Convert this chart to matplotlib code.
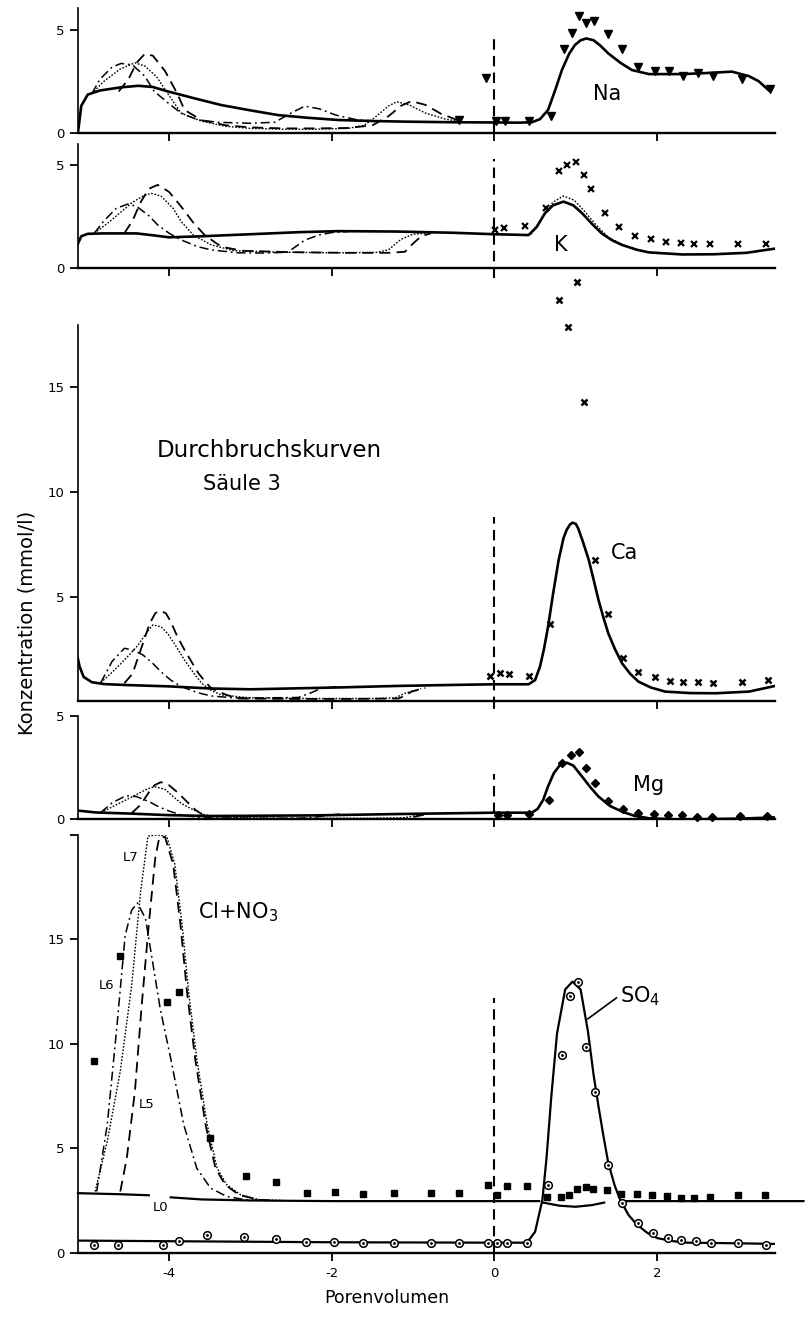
import matplotlib
matplotlib.use("Agg")
import matplotlib.pyplot as plt
import numpy as np

W, H = 809, 1317
nan = np.nan

x_ticks = [-4, -2, 0, 2]
x_tick_labels = ["-4", "-2", "0", "2"]

# Na panel
na_x_obs = [-0.44, -0.10, 0.02, 0.13, 0.43, 0.69, 0.85, 0.95, 1.04, 1.13, 1.23, 1.40, 1.57,
            1.77, 1.97, 2.15, 2.32, 2.50, 2.69, 3.04, 3.39]
na_y_obs = [0.62, 2.65, 0.55, 0.55, 0.57, 0.81, 4.09, 4.84, 5.68, 5.36, 5.45, 4.79, 4.09,
            3.21, 3.0, 3.0, 2.78, 2.88, 2.75, 2.62, 2.1]
na_l0_x = [-5.12, -5.08, -5.0, -4.85, -4.6, -4.38, -4.2, -4.01, -3.7, -3.36, -3.0, -2.66, -2.3,
           -1.92, -1.5, -1.1, -0.5, 0.0, 0.3, 0.46, 0.56, 0.66, 0.75, 0.83, 0.92, 0.99, 1.06,
           1.13, 1.22, 1.30, 1.40, 1.55, 1.69, 1.90, 2.31, 2.6, 2.92, 3.13, 3.25, 3.37]
na_l0_y = [0.0, 1.3, 1.85, 2.05, 2.2, 2.28, 2.22, 2.0, 1.68, 1.34, 1.08, 0.85, 0.72,
           0.61, 0.56, 0.53, 0.5, 0.49, 0.48, 0.5, 0.65, 1.1, 2.1, 3.05, 3.85, 4.27, 4.5,
           4.59, 4.5, 4.25, 3.86, 3.4, 3.05, 2.85, 2.85, 2.9, 2.97, 2.75, 2.5, 2.07]
na_l5_x = [-4.62, -4.5, -4.4, -4.3, -4.2, -4.05, -3.9, -3.81, -3.6, -3.3, -3.0, -2.6, -2.2,
           -1.8, -1.5, -1.3, -1.15, -1.02, -0.85, -0.65, -0.45]
na_l5_y = [2.0, 2.6, 3.4, 3.83, 3.75, 3.0, 1.9, 1.1, 0.6, 0.35, 0.25, 0.2, 0.2,
           0.22, 0.35, 0.8, 1.3, 1.53, 1.35, 0.9, 0.6]
na_l6_x = [-4.95, -4.85, -4.7, -4.59, -4.45, -4.3, -4.18, -4.0, -3.85, -3.65, -3.4, -3.0,
           -2.7, -2.5, -2.33, -2.15, -1.95, -1.68, -1.4]
na_l6_y = [1.9, 2.6, 3.2, 3.37, 3.3, 2.75, 2.0, 1.4, 0.94, 0.62, 0.5, 0.45,
           0.5, 0.95, 1.29, 1.15, 0.85, 0.61, 0.55]
na_l7_x = [-4.95, -4.8, -4.6, -4.42, -4.3, -4.15, -4.0, -3.85, -3.6, -3.3, -3.0, -2.6, -2.2,
           -1.8, -1.6, -1.45, -1.3, -1.2, -1.05, -0.85, -0.6, -0.45]
na_l7_y = [1.9, 2.5, 3.1, 3.4, 3.25, 2.7, 1.8, 0.94, 0.55, 0.3, 0.2, 0.16, 0.16,
           0.2, 0.35, 0.8, 1.3, 1.5, 1.35, 0.95, 0.65, 0.55]

# K panel
k_x_obs = [0.01, 0.12, 0.37, 0.63, 0.79, 0.89, 1.0, 1.10, 1.19, 1.36, 1.53, 1.73, 1.93, 2.11,
           2.29, 2.46, 2.65, 2.99, 3.34]
k_y_obs = [1.85, 1.94, 2.07, 2.91, 4.73, 5.0, 5.17, 4.52, 3.84, 2.66, 2.02, 1.57, 1.41, 1.29,
           1.24, 1.16, 1.16, 1.16, 1.16]
k_l0_x = [-5.12, -5.08, -5.0, -4.8, -4.4, -4.2, -4.0, -3.6, -3.0, -2.4, -1.92, -1.2, -0.5, 0.0,
          0.42, 0.52, 0.62, 0.72, 0.85, 0.97, 1.08, 1.2, 1.32, 1.45, 1.57, 1.75, 1.90, 2.31,
          2.7, 3.1, 3.46]
k_l0_y = [1.2, 1.55, 1.67, 1.69, 1.69, 1.6, 1.5, 1.55, 1.65, 1.75, 1.8, 1.78, 1.72, 1.65,
          1.61, 2.0, 2.66, 3.05, 3.23, 3.05, 2.66, 2.15, 1.69, 1.35, 1.13, 0.9, 0.77, 0.67,
          0.68, 0.75, 0.96]
k_l5_x = [-4.55, -4.45, -4.35, -4.25, -4.14, -4.0, -3.85, -3.7, -3.56, -3.36, -3.1, -2.5, -1.8,
          -1.3, -1.1, -1.0, -0.9, -0.78]
k_l5_y = [1.7, 2.3, 3.2, 3.85, 4.04, 3.7, 2.98, 2.2, 1.6, 1.05, 0.85, 0.78, 0.75,
          0.75, 0.8, 1.2, 1.55, 1.7]
k_l6_x = [-4.92, -4.8, -4.65, -4.51, -4.4, -4.25, -4.14, -4.0, -3.85, -3.65, -3.48, -3.15, -2.8,
          -2.54, -2.33, -2.15, -2.0, -1.8]
k_l6_y = [1.7, 2.3, 2.9, 3.11, 3.0, 2.55, 2.1, 1.7, 1.37, 1.05, 0.89, 0.75, 0.74,
          0.78, 1.37, 1.62, 1.73, 1.78]
k_l7_x = [-4.92, -4.75, -4.6, -4.45, -4.32, -4.22, -4.1, -3.95, -3.85, -3.7, -3.48, -3.2, -2.6,
          -1.9, -1.45, -1.3, -1.15, -1.0, -0.8]
k_l7_y = [1.7, 2.2, 2.7, 3.2, 3.5, 3.63, 3.5, 2.9, 2.26, 1.6, 1.13, 0.85, 0.78,
          0.75, 0.77, 0.9, 1.4, 1.65, 1.72]
k_l7_right_x = [0.45, 0.6, 0.72, 0.85, 0.98, 1.1, 1.25, 1.4, 1.6]
k_l7_right_y = [1.65, 2.5, 3.2, 3.5, 3.3, 2.8, 2.1, 1.5, 1.1]

# Ca panel
ca_x_obs = [-0.05, 0.07, 0.18, 0.43, 0.68, 0.80, 0.90, 1.01, 1.10, 1.24, 1.40, 1.58, 1.77,
            1.97, 2.16, 2.32, 2.50, 2.69, 3.04, 3.37]
ca_y_obs = [1.2, 1.32, 1.28, 1.2, 3.68, 19.2, 17.9, 20.06, 14.3, 6.75, 4.15, 2.07, 1.4,
            1.13, 0.96, 0.89, 0.93, 0.85, 0.89, 1.0]
ca_l0_x = [-5.12, -5.1, -5.05, -4.95, -4.8, -4.5, -4.0, -3.5, -3.0, -2.5, -1.9, -1.2, -0.5, 0.0,
           0.42, 0.50, 0.56, 0.61, 0.66, 0.72, 0.79, 0.85, 0.89, 0.93, 0.96, 1.0, 1.03, 1.09,
           1.16, 1.22, 1.28, 1.34, 1.40, 1.48, 1.57, 1.67, 1.77, 1.92, 2.10, 2.4, 2.72, 3.13, 3.45]
ca_l0_y = [2.0, 1.64, 1.15, 0.9, 0.81, 0.76, 0.7, 0.6, 0.56, 0.6, 0.65, 0.72, 0.77, 0.8,
           0.8, 1.0, 1.64, 2.5, 3.56, 5.1, 6.75, 7.8, 8.2, 8.45, 8.53, 8.48, 8.26, 7.6,
           6.75, 5.8, 4.83, 4.0, 3.24, 2.5, 1.8, 1.3, 0.93, 0.65, 0.45, 0.38, 0.37, 0.45, 0.72]
ca_l5_x = [-4.55, -4.45, -4.38, -4.3, -4.24, -4.17, -4.11, -4.04, -3.98, -3.9, -3.81, -3.72,
           -3.64, -3.55, -3.48, -3.3, -3.15, -2.5, -1.8, -1.18, -1.1, -1.02, -0.85]
ca_l5_y = [0.85, 1.3, 2.1, 3.0, 3.7, 4.2, 4.32, 4.2, 3.8, 3.1, 2.44, 1.85,
           1.33, 0.9, 0.6, 0.3, 0.12, 0.1, 0.1, 0.12, 0.25, 0.45, 0.62]
ca_l6_x = [-4.84, -4.7, -4.55, -4.45, -4.32, -4.2, -4.1, -3.98, -3.85, -3.65, -3.48, -3.2, -2.8,
           -2.41, -2.25, -2.13, -1.92]
ca_l6_y = [0.88, 1.9, 2.52, 2.45, 2.2, 1.8, 1.4, 1.0, 0.69, 0.4, 0.24, 0.15, 0.15,
           0.17, 0.4, 0.61, 0.69]
ca_l7_x = [-4.84, -4.72, -4.59, -4.48, -4.38, -4.28, -4.2, -4.1, -4.02, -3.92, -3.81, -3.7,
           -3.6, -3.48, -3.36, -3.0, -2.2, -1.5, -1.22, -1.1, -0.9]
ca_l7_y = [0.88, 1.3, 1.8, 2.25, 2.68, 3.25, 3.64, 3.55, 3.24, 2.65, 1.96, 1.35,
           0.85, 0.5, 0.29, 0.15, 0.12, 0.12, 0.15, 0.37, 0.6]

# Mg panel
mg_x_obs = [0.05, 0.16, 0.43, 0.67, 0.83, 0.94, 1.04, 1.13, 1.24, 1.40, 1.58, 1.76, 1.96, 2.14,
            2.31, 2.49, 2.67, 3.02, 3.35]
mg_y_obs = [0.21, 0.21, 0.24, 0.94, 2.71, 3.12, 3.28, 2.5, 1.74, 0.89, 0.48, 0.29, 0.24, 0.21,
            0.21, 0.13, 0.13, 0.16, 0.16]
mg_l0_x = [-5.12, -4.9, -4.5, -4.0, -3.5, -3.0, -2.2, -1.1, 0.0, 0.46, 0.53, 0.60, 0.66, 0.73,
           0.80, 0.89, 0.97, 1.08, 1.18, 1.28, 1.42, 1.57, 1.72, 1.90, 2.2, 2.51, 3.0, 3.5]
mg_l0_y = [0.42, 0.33, 0.28, 0.2, 0.16, 0.17, 0.19, 0.26, 0.32, 0.32, 0.5, 0.94, 1.6, 2.23,
           2.6, 2.74, 2.6, 2.06, 1.55, 1.1, 0.65, 0.37, 0.17, 0.05, 0.0, 0.0, 0.03, 0.1]
mg_l5_x = [-4.46, -4.35, -4.25, -4.18, -4.1, -4.0, -3.89, -3.78, -3.68, -3.58, -3.48, -3.0,
           -2.0, -1.1, -0.95, -0.8]
mg_l5_y = [0.3, 0.7, 1.3, 1.65, 1.8, 1.65, 1.28, 0.85, 0.47, 0.2, 0.03, 0.0,
           0.0, 0.02, 0.15, 0.28]
mg_l6_x = [-4.84, -4.7, -4.53, -4.4, -4.32, -4.22, -4.13, -4.0, -3.85, -3.6, -3.0, -2.4, -2.17,
           -2.0, -1.9]
mg_l6_y = [0.33, 0.8, 1.14, 1.1, 0.97, 0.8, 0.61, 0.4, 0.21, 0.07, 0.05, 0.05, 0.12,
           0.22, 0.25]
mg_l7_x = [-4.84, -4.7, -4.55, -4.4, -4.28, -4.18, -4.05, -3.95, -3.85, -3.7, -3.56, -3.3, -2.5,
           -1.5, -1.1, -0.95, -0.8]
mg_l7_y = [0.33, 0.6, 0.9, 1.2, 1.45, 1.58, 1.45, 1.1, 0.77, 0.45, 0.21, 0.08, 0.05,
           0.05, 0.08, 0.2, 0.28]

# Cl+NO3 / SO4 panel
cl_x_obs = [-4.92, -4.60, -4.03, -3.88, -3.50, -3.05, -2.68, -2.30, -1.96, -1.62, -1.24, -0.78,
            -0.44, -0.08, 0.03, 0.15, 0.40, 0.65, 0.82, 0.92, 1.02, 1.12, 1.21, 1.38, 1.56,
            1.75, 1.94, 2.12, 2.29, 2.46, 2.65, 2.99, 3.33]
cl_y_obs = [9.2, 14.2, 12.0, 12.5, 5.5, 3.65, 3.4, 2.86, 2.9, 2.82, 2.85, 2.87,
            2.87, 3.23, 2.75, 3.2, 3.2, 2.65, 2.69, 2.74, 3.05, 3.13, 3.07, 2.98, 2.8,
            2.8, 2.75, 2.7, 2.64, 2.64, 2.65, 2.76, 2.76]
cl_l0_x = [-5.12, -4.6, -4.25, nan, -3.98, -3.6, -3.0, -2.0, -1.0, 0.0, 0.55, nan,
           0.6, 0.8, 1.0, 1.2, 1.35, nan, 1.55, 2.5, 3.8]
cl_l0_y = [2.85, 2.8, 2.75, nan, 2.65, 2.55, 2.5, 2.47, 2.47, 2.47, 2.47, nan,
           2.4, 2.25, 2.2, 2.28, 2.4, nan, 2.47, 2.47, 2.47]
cl_l5_x = [-4.60, -4.52, -4.42, -4.34, -4.25, -4.17, -4.12, -4.05, -3.95, -3.86, -3.78, -3.68,
           -3.55, -3.43, -3.31, -3.14, -2.9, -2.7]
cl_l5_y = [2.93, 4.53, 7.73, 11.7, 15.7, 18.9, 19.9, 19.9, 18.6, 15.7, 12.5, 9.3,
           6.1, 4.05, 3.25, 2.77, 2.53, 2.5]
cl_l6_x = [-4.89, -4.76, -4.64, -4.54, -4.46, -4.39, -4.29, -4.21, -4.11, -3.98, -3.82, -3.66,
           -3.49, -3.29, -3.05, -2.8]
cl_l6_y = [2.93, 6.13, 10.9, 15.2, 16.4, 16.75, 16.0, 14.1, 11.7, 9.3, 6.13, 4.05,
           3.09, 2.69, 2.53, 2.5]
cl_l7_x = [-4.91, -4.76, -4.6, -4.46, -4.35, -4.26, -4.15, -4.03, -3.93, -3.84, -3.76, -3.66,
           -3.53, -3.41, -3.29, -3.12, -2.88, -2.6]
cl_l7_y = [2.93, 5.33, 8.69, 12.8, 17.3, 19.95, 20.0, 19.95, 18.6, 15.7, 12.5, 9.3,
           6.1, 4.05, 3.25, 2.77, 2.53, 2.5]
so4_x_obs = [-4.92, -4.63, -4.08, -3.88, -3.53, -3.08, -2.69, -2.32, -1.97, -1.62, -1.24, -0.78,
             -0.44, -0.08, 0.03, 0.15, 0.40, 0.66, 0.83, 0.93, 1.03, 1.12, 1.24, 1.40, 1.57,
             1.77, 1.95, 2.13, 2.30, 2.48, 2.66, 3.0, 3.34]
so4_y_obs = [0.35, 0.35, 0.35, 0.56, 0.84, 0.77, 0.65, 0.52, 0.52, 0.48, 0.48, 0.48,
             0.48, 0.45, 0.45, 0.45, 0.45, 3.25, 9.48, 12.3, 12.95, 9.84, 7.7, 4.2, 2.4,
             1.43, 0.95, 0.72, 0.63, 0.55, 0.46, 0.45, 0.38]
so4_line_x = [-5.12, -4.0, -2.0, 0.0, 0.40, 0.50, 0.59, 0.64, 0.70, 0.77, 0.87, 0.96, 1.06,
              1.15, 1.22, 1.28, 1.34, 1.40, 1.48, 1.55, 1.65, 1.75, 1.88, 2.0, 2.2, 2.37,
              3.0, 3.45]
so4_line_y = [0.58, 0.55, 0.5, 0.48, 0.48, 1.0, 2.53, 4.5, 7.5, 10.5, 12.6, 12.98, 12.6,
              10.6, 8.5, 7.0, 5.6, 4.3, 3.2, 2.5, 1.8, 1.35, 0.95, 0.7, 0.55, 0.48,
              0.45, 0.42]

# line styles of the model runs
st_l0 = dict(color="black", lw=1.9, ls="-")
st_l5 = dict(color="black", lw=1.3, ls=(0, (6, 3.5)))
st_l6 = dict(color="black", lw=1.1, ls=(0, (6, 2.5, 1.2, 2.5)))
st_l7 = dict(color="black", lw=1.0, ls=(0, (1.2, 1.2)))

x0_px, x1_px = 78, 775
xlim = (-5.12, 3.45)


def make_panel(top_px, zero_px, ymax, yticks, ylabels, last=False):
    ax = fig.add_axes([x0_px / W, (H - zero_px) / H, (x1_px - x0_px) / W, (zero_px - top_px) / H])
    ax.set_xlim(xlim)
    ax.set_ylim(0, ymax)
    ax.spines["top"].set_visible(False)
    ax.spines["right"].set_visible(False)
    ax.spines["left"].set_linewidth(1.2)
    ax.spines["bottom"].set_linewidth(1.7)
    ax.set_xticks(x_ticks)
    if last:
        ax.set_xticklabels(x_tick_labels)
    else:
        ax.set_xticklabels([])
    ax.set_yticks(yticks)
    ax.set_yticklabels(ylabels)
    ax.tick_params(direction="out", length=6, width=1.3, labelsize=9.5, pad=4)
    ax.patch.set_alpha(0)
    return ax


def draw_models(ax, l0, l5, l6, l7):
    ax.plot(l5[0], l5[1], **st_l5)
    ax.plot(l6[0], l6[1], **st_l6)
    ax.plot(l7[0], l7[1], **st_l7)
    ax.plot(l0[0], l0[1], **st_l0)


fig = plt.figure(figsize=(W / 100, H / 100), dpi=100)

# Na
ax = make_panel(7.5, 132.5, 6.1, [0, 5], ["0", "5"])
draw_models(ax, (na_l0_x, na_l0_y), (na_l5_x, na_l5_y), (na_l6_x, na_l6_y), (na_l7_x, na_l7_y))
ax.plot(na_x_obs, na_y_obs, "v", color="black", ms=6, ls="none")
ax.plot([0, 0], [0, 4.8], color="black", lw=1.5, ls=(0, (5, 3)))
ax.text(1.39, 1.9, "Na", fontsize=15, ha="center", va="center")

# K
ax = make_panel(144.4, 268.3, 6.0, [0, 5], ["0", "5"])
draw_models(ax, (k_l0_x, k_l0_y), (k_l5_x, k_l5_y), (k_l6_x, k_l6_y), (k_l7_x, k_l7_y))
ax.plot(k_l7_right_x, k_l7_right_y, **st_l7)
ax.plot(k_x_obs, k_y_obs, "x", color="black", ms=5, mew=1.6, ls="none")
ax.plot([0, 0], [-0.45, 5.3], color="black", lw=1.5, ls=(0, (5, 3)), clip_on=False)
ax.text(0.82, 1.13, "K", fontsize=15, ha="center", va="center")

# Ca
ax = make_panel(324.8, 701, 18.0, [5, 10, 15], ["5", "10", "15"])
draw_models(ax, (ca_l0_x, ca_l0_y), (ca_l5_x, ca_l5_y), (ca_l6_x, ca_l6_y), (ca_l7_x, ca_l7_y))
ax.plot(ca_x_obs, ca_y_obs, "x", color="black", ms=4.5, mew=1.8, ls="none", clip_on=False)
ax.plot([0, 0], [-0.3, 8.8], color="black", lw=1.5, ls=(0, (5, 3)), clip_on=False)
ax.text(1.6, 7.1, "Ca", fontsize=15, ha="center", va="center")
ax.text(-2.77, 12.0, "Durchbruchskurven", fontsize=16.5, ha="center", va="center")
ax.text(-3.11, 10.4, "Säule 3", fontsize=15, ha="center", va="center")

# Mg
ax = make_panel(716, 819.3, 5.0, [0, 5], ["0", "5"])
draw_models(ax, (mg_l0_x, mg_l0_y), (mg_l5_x, mg_l5_y), (mg_l6_x, mg_l6_y), (mg_l7_x, mg_l7_y))
ax.plot(mg_x_obs, mg_y_obs, "D", color="black", ms=4, ls="none", clip_on=False)
ax.plot([0, 0], [0.3, 2.2], color="black", lw=1.5, ls=(0, (5, 3)))
ax.text(1.9, 1.66, "Mg", fontsize=15, ha="center", va="center")

# Cl+NO3 and SO4
ax = make_panel(835, 1252.7, 20.0, [0, 5, 10, 15, 20], ["0", "5", "10", "15", ""], last=True)
ax.plot(cl_l5_x, cl_l5_y, **st_l5)
ax.plot(cl_l6_x, cl_l6_y, **st_l6)
ax.plot(cl_l7_x, cl_l7_y, **st_l7)
ax.plot(cl_l0_x, cl_l0_y, color="black", lw=1.6, clip_on=False)
ax.plot(so4_line_x, so4_line_y, color="black", lw=1.6)
ax.plot(cl_x_obs, cl_y_obs, "s", color="black", ms=4.2, ls="none")
ax.plot(so4_x_obs, so4_y_obs, "o", mfc="white", mec="black", mew=1.1, ms=5.5, ls="none")
ax.plot(so4_x_obs, so4_y_obs, ".", color="black", ms=2, ls="none")
ax.plot([0, 0], [0, 12.2], color="black", lw=1.5, ls=(0, (5, 3)))
ax.plot([1.15, 1.5], [11.2, 12.2], color="black", lw=1.2)
ax.text(1.55, 12.3, "SO$_4$", fontsize=15, ha="left", va="center")
ax.text(-3.65, 16.3, "Cl+NO$_3$", fontsize=15, ha="left", va="center")
ax.text(-4.47, 18.9, "L7", fontsize=9.5, ha="center", va="center")
ax.text(-4.77, 12.8, "L6", fontsize=9.5, ha="center", va="center")
ax.text(-4.28, 7.1, "L5", fontsize=9.5, ha="center", va="center")
ax.text(-4.1, 2.15, "L0", fontsize=9.5, ha="center", va="center")

fig.text(27 / W, (H - 623) / H, "Konzentration (mmol/l)", rotation=90, fontsize=14,
         ha="center", va="center")
fig.text(387 / W, (H - 1298) / H, "Porenvolumen", fontsize=12.5, ha="center", va="center")

plt.savefig("out.png", dpi=100)
